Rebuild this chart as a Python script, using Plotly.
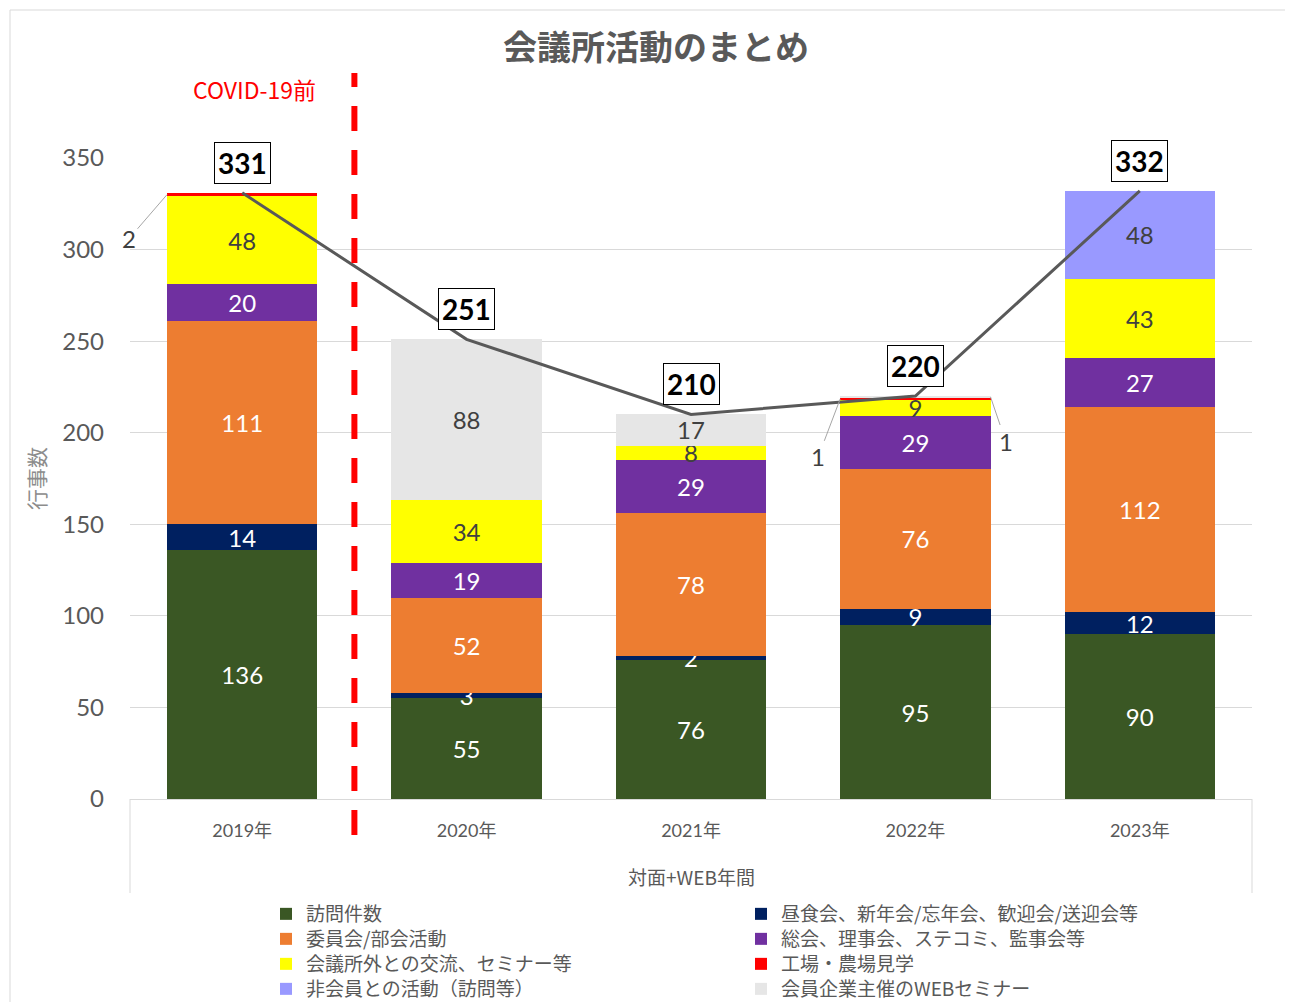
import plotly.graph_objects as go

# ---------------- data ----------------
years = ["2019年", "2020年", "2021年", "2022年", "2023年"]

names = [
    "訪問件数",
    "昼食会、新年会/忘年会、歓迎会/送迎会等",
    "委員会/部会活動",
    "総会、理事会、ステコミ、監事会等",
    "会議所外との交流、セミナー等",
    "工場・農場見学",
    "非会員との活動（訪問等）",
    "会員企業主催のWEBセミナー",
]
visits     = [136, 55, 76, 95, 90]
lunch      = [14, 3, 2, 9, 12]
committee  = [111, 52, 78, 76, 112]
general    = [20, 19, 29, 29, 27]
external   = [48, 34, 8, 9, 43]
factory    = [2, 0, 0, 1, 0]
nonmember  = [0, 0, 0, 0, 48]
webinar    = [0, 88, 17, 1, 0]

series = [visits, lunch, committee, general, external, factory, nonmember, webinar]
colors = ["#3A5724", "#002060", "#ED7D31", "#7030A0", "#FFFF00", "#FF0000", "#9999FF", "#E6E6E6"]
label_colors = ["white", "white", "white", "white", "#404040", "#404040", "#404040", "#404040"]

totals = [sum(s[i] for s in series) for i in range(len(years))]

# ---------------- layout geometry ----------------
# The page body has an 8px margin, so figure pixel = screen pixel - OFF
OFF = 8
W, H = 1293, 1002
PLOT_L, PLOT_R, PLOT_T, PLOT_B = 130, 1252, 158, 799   # screen coords
L = PLOT_L - OFF
T = PLOT_T - OFF
R = W - (PLOT_R - OFF)
B = H - (PLOT_B - OFF)
PW, PH = PLOT_R - PLOT_L, PLOT_B - PLOT_T


def px_x(px):
    return (px - PLOT_L) / PW


def px_y(py):
    return (PLOT_B - py) / PH


CJK = "Lato, Noto Sans CJK JP"
JP = "Noto Sans CJK JP"
GREY = "#595959"

fig = go.Figure()

legend_keys = ["legend", "legend2", "legend3", "legend4"]

# stacked bars
for k, (name, vals) in enumerate(zip(names, series)):
    inside = [str(v) if (v >= 2 and k != 5) else "" for v in vals]
    fig.add_trace(go.Bar(
        x=years, y=vals, name=name, legend=legend_keys[k // 2],
        marker=dict(color=colors[k], line=dict(width=0)),
        text=inside, textposition="inside", insidetextanchor="middle",
        textangle=0, constraintext="none",
        textfont=dict(size=24, color=label_colors[k], family=CJK),
        hoverinfo="skip",
    ))

# total line
fig.add_trace(go.Scatter(
    x=years, y=totals, mode="lines", showlegend=False,
    line=dict(color=GREY, width=3), hoverinfo="skip",
))

annotations = []
# boxed totals
for yr, tot in zip(years, totals):
    annotations.append(dict(
        x=yr, y=tot, xref="x", yref="y", yshift=30, showarrow=False,
        text=f"<b>{tot}</b>", font=dict(size=28, color="black", family=CJK),
        bgcolor="white", bordercolor="black", borderwidth=1, borderpad=3,
    ))

# callouts for small segments
half = 0.335


def cum_mid(series_idx, year_idx):
    below = sum(series[j][year_idx] for j in range(series_idx))
    return below + series[series_idx][year_idx] / 2


callouts = [
    (5, 0, -half, -38, 44),   # factory 2019
    (5, 3, -half, -22, 58),   # factory 2022
    (7, 3, half, 15, 44),     # webinar 2022
]
for s_idx, y_idx, dx, ax, ay in callouts:
    annotations.append(dict(
        x=y_idx + dx, y=cum_mid(s_idx, y_idx), xref="x", yref="y",
        text=str(series[s_idx][y_idx]), showarrow=True, arrowhead=0,
        arrowwidth=1, arrowcolor="#A6A6A6", ax=ax, ay=ay, standoff=0,
        font=dict(size=24, color="#404040", family=CJK),
    ))

# COVID label
annotations.append(dict(
    x=px_x(254), y=px_y(89), xref="paper", yref="paper", showarrow=False,
    text="COVID-19前", font=dict(size=23, color="#FF0000", family=JP),
    xanchor="center", yanchor="middle",
))
# y axis title
annotations.append(dict(
    x=px_x(36), y=px_y(478), xref="paper", yref="paper", showarrow=False,
    text="行事数", textangle=-90, font=dict(size=21, color="#8C8C8C", family=JP),
    xanchor="center", yanchor="middle",
))
# x axis group title
annotations.append(dict(
    x=0.5, y=px_y(876), xref="paper", yref="paper", showarrow=False,
    text="対面+WEB年間", font=dict(size=19, color=GREY, family=JP),
    xanchor="center", yanchor="middle",
))

shapes = [
    # outer chart border
    dict(type="rect", xref="paper", yref="paper",
         x0=px_x(10), x1=px_x(1320), y0=px_y(1030), y1=px_y(10),
         line=dict(color="#D9D9D9", width=1), fillcolor="rgba(0,0,0,0)", layer="below"),
    # multi-level category box sides
    dict(type="line", xref="paper", yref="paper", x0=0, x1=0, y0=0, y1=px_y(893),
         line=dict(color="#D9D9D9", width=1)),
    dict(type="line", xref="paper", yref="paper", x0=1, x1=1, y0=0, y1=px_y(893),
         line=dict(color="#D9D9D9", width=1)),
    # COVID divider
    dict(type="line", xref="x", yref="paper", x0=0.5, x1=0.5, y0=px_y(835), y1=px_y(73),
         line=dict(color="#FF0000", width=6, dash="25px,19px")),
]

row_centers = [914, 939, 964, 989]
legend_layouts = {}
for key, yc in zip(legend_keys, row_centers):
    legend_layouts[key] = dict(
        orientation="h", x=px_x(266), xanchor="left", y=px_y(yc), yanchor="middle",
        entrywidth=430, entrywidthmode="pixels", traceorder="normal",
        font=dict(size=19, color=GREY, family=JP),
        itemwidth=30, bgcolor="rgba(0,0,0,0)",
    )

fig.update_layout(
    width=W, height=H,
    margin=dict(l=L, r=R, t=T, b=B, autoexpand=False),
    paper_bgcolor="white", plot_bgcolor="white",
    barmode="stack", bargap=0.33,
    title=dict(text="<b>会議所活動のまとめ</b>", x=(656 - OFF) / W, xref="container", xanchor="center",
               y=1 - (48 - OFF) / H, yref="container", yanchor="middle",
               font=dict(size=34, color=GREY, family=JP)),
    font=dict(family=CJK, color=GREY),
    xaxis=dict(type="category", range=[-0.5, 4.5], autorange=False,
               showline=True, linecolor="#D9D9D9", linewidth=1,
               showgrid=False, ticks="", ticklabelstandoff=15, automargin=False,
               tickfont=dict(size=18, color=GREY, family=CJK)),
    yaxis=dict(range=[0, 350], dtick=50, showgrid=True, gridcolor="#D9D9D9", gridwidth=1,
               zeroline=False, showline=False, ticks="", ticklabelstandoff=25, automargin=False,
               tickfont=dict(size=24, color=GREY, family=CJK)),
    annotations=annotations,
    shapes=shapes,
    showlegend=True,
    **legend_layouts,
)

fig.write_html("out.html")
